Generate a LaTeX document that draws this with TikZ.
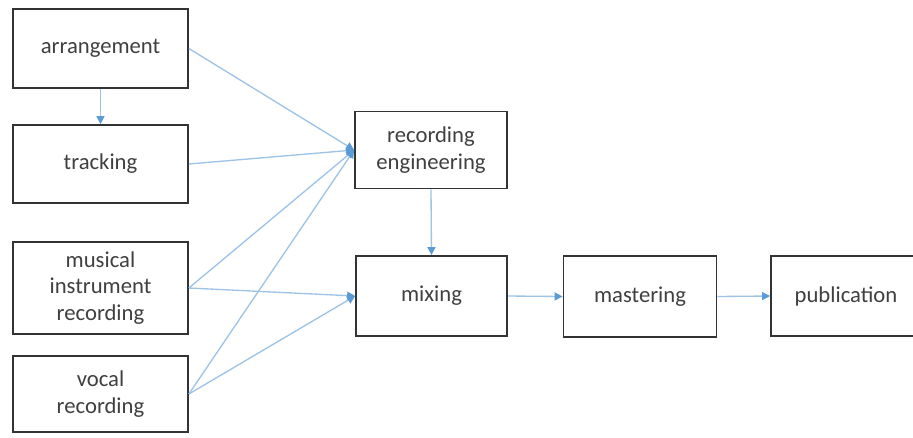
\documentclass[tikz,border=0pt]{standalone}
\usepackage{fontspec}
\setmainfont{Carlito}
\usetikzlibrary{arrows.meta}
\definecolor{linec}{HTML}{9DC3E6}
\definecolor{headc}{HTML}{5B9BD5}
\definecolor{txt}{HTML}{404040}
\begin{document}
\begin{tikzpicture}[x=0.75pt,y=-0.75pt,
  box/.style={draw=black!80,line width=1.3pt,fill=white,text=txt,align=center,
    inner sep=0pt,font=\fontsize{17}{20}\selectfont},
  conn/.style={draw=linec,line width=1pt,-{Triangle[length=6pt,width=6pt,color=headc,fill=headc]}}]
\useasboundingbox (0,0) rectangle (913,437);
\node[box,minimum width=175*0.75pt,minimum height=79*0.75pt] (arr) at (100.5,48.5) {arrangement};
\node[box,minimum width=175*0.75pt,minimum height=78*0.75pt] (trk) at (100.5,164) {tracking};
\node[box,minimum width=175*0.75pt,minimum height=92*0.75pt] (mir) at (100.5,288) {musical\\instrument\\recording};
\node[box,minimum width=175*0.75pt,minimum height=76*0.75pt] (voc) at (100.5,394) {vocal\\recording};
\node[box,minimum width=152*0.75pt,minimum height=77*0.75pt] (reng) at (431,150) {recording\\engineering};
\node[box,minimum width=151*0.75pt,minimum height=80*0.75pt] (mix) at (431.5,296) {mixing};
\node[box,minimum width=153*0.75pt,minimum height=81*0.75pt] (mast) at (640,296.5) {mastering};
\node[box,minimum width=150*0.75pt,minimum height=80*0.75pt] (pub) at (846,296) {publication};
\coordinate (rengin) at (reng.west);
\coordinate (mixin) at (mix.west);
\draw[conn] (arr.south) -- (trk.north);
\draw[conn] (arr.east) -- (rengin);
\draw[conn] (trk.east) -- (rengin);
\draw[conn] (mir.east) -- (rengin);
\draw[conn] (voc.east) -- (rengin);
\draw[conn] (mir.east) -- (mixin);
\draw[conn] (voc.east) -- (mixin);
\draw[conn] (reng.south) -- (mix.north);
\draw[conn] (mix.east) -- (mast.west);
\draw[conn] (mast.east) -- (pub.west);
\end{tikzpicture}
\end{document}
